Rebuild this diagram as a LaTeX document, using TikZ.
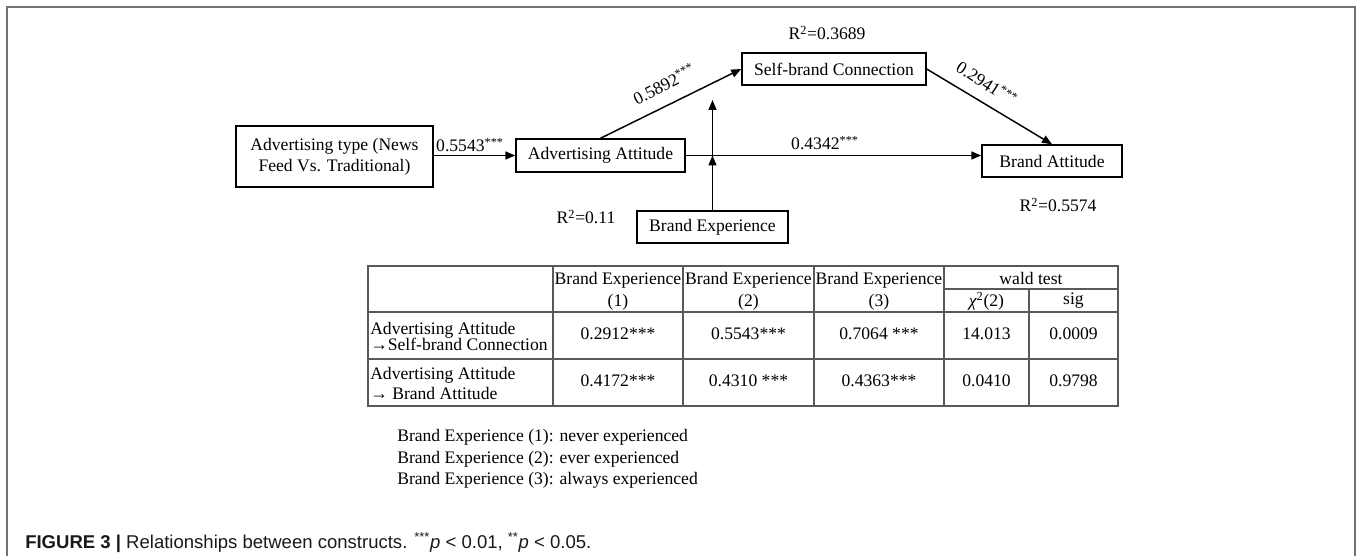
\documentclass[tikz,border=0pt]{standalone}
\usepackage{fontspec}
\setmainfont{Liberation Serif}
\setsansfont{Liberation Sans}
\usetikzlibrary{arrows.meta}
\begin{document}
\begin{tikzpicture}[x=0.75pt,y=-0.75pt,
  box/.style={draw, line width=1.1pt, inner sep=0pt, align=center, font=\fontsize{13.2pt}{15.75pt}\selectfont},
  conn/.style={line width=1.1pt, -{Triangle[length=7.5pt,width=6pt]}},
  lbl/.style={inner sep=0pt, font=\fontsize{13.2pt}{15.5pt}\selectfont},
  tline/.style={draw=black!65, line width=1.1pt},
  ttext/.style={inner sep=0pt, align=center, font=\fontsize{13.2pt}{16.25pt}\selectfont},
  tleft/.style={inner sep=0pt, anchor=west, align=left},
  frame/.style={draw=black!55, line width=1.5pt}]
\useasboundingbox (0,0) rectangle (1357,556);
\draw[frame] (7,556) -- (7,7) -- (1355,7) -- (1355,556);

% boxes
\node[box, minimum width=147.75pt, minimum height=45.75pt] (type) at (334.5,156.5) {Advertising type (News\\Feed Vs. Traditional)};
\node[box, minimum width=126.75pt, minimum height=24.75pt] (aa) at (600.5,155.5) {Advertising Attitude};
\node[box, minimum width=138pt, minimum height=24pt] (sbc) at (834,69) {Self-brand Connection};
\node[box, minimum width=105pt, minimum height=24pt] (ba) at (1052,161) {Brand Attitude};
\node[box, minimum width=113.25pt, minimum height=24pt] (be) at (712.5,227) {Brand Experience};

% connectors
\draw[conn] (type.east |- aa.west) -- (aa.west);
\draw[conn] (aa.north) -- (sbc.west);
\draw[conn] (sbc.east) -- (ba.north);
\draw[conn] (aa.east) -- (aa.east -| ba.west);
\coordinate (cross) at (be.north |- aa.east);
\coordinate (mtip) at (712.5,100);
\draw[conn] (be.north) -- (cross);
\draw[conn] (cross) -- (mtip);

% labels
\node[lbl] (l1) at (470,145) {0.5543\textsuperscript{***}};
\node[lbl] (l4) at (825,143) {0.4342\textsuperscript{***}};
\node[lbl, rotate=27] (l2) at (664,84) {0.5892\textsuperscript{***}};
\node[lbl, rotate=-33] (l3) at (987,83) {0.2941\textsuperscript{***}};
\node[lbl] (r1) at (827,33) {R\textsuperscript{2}=0.3689};
\node[lbl] (r2) at (586,217) {R\textsuperscript{2}=0.11};
\node[lbl] (r3) at (1058,205) {R\textsuperscript{2}=0.5574};

% table grid
\draw[tline] (368,266) rectangle (1118,406);
\draw[tline] (368,312) -- (1118,312);
\draw[tline] (368,359) -- (1118,359);
\draw[tline] (944,289) -- (1118,289);
\draw[tline] (553,266) -- (553,406);
\draw[tline] (683,266) -- (683,406);
\draw[tline] (814,266) -- (814,406);
\draw[tline] (944,266) -- (944,406);
\draw[tline] (1029,289) -- (1029,406);

% table header
\node[ttext] (h1) at (618,291) {Brand Experience\\(1)};
\node[ttext] (h2) at (748.5,291) {Brand Experience\\(2)};
\node[ttext] (h3) at (879,291) {Brand Experience\\(3)};
\node[ttext] (hw) at (1031,278) {wald test};
\node[ttext] (hc) at (986.5,301) {{\itshape χ}\textsuperscript{2}(2)};
\node[ttext] (hs) at (1073.5,301) {sig};

% row 1
\node[tleft, font=\fontsize{13.2pt}{12.5pt}\selectfont] (a1) at (370,336.5) {Advertising Attitude\\→Self-brand Connection};
\node[ttext] (v11) at (618,334) {0.2912***};
\node[ttext] (v12) at (748.5,334) {0.5543***};
\node[ttext] (v13) at (879,334) {0.7064 ***};
\node[ttext] (v14) at (986.5,334) {14.013};
\node[ttext] (v15) at (1073.5,334) {0.0009};

% row 2
\node[tleft, font=\fontsize{13.2pt}{15pt}\selectfont] (a2) at (370,383) {Advertising Attitude\\→ Brand Attitude};
\node[ttext] (v21) at (618,381) {0.4172***};
\node[ttext] (v22) at (748.5,381) {0.4310 ***};
\node[ttext] (v23) at (879,381) {0.4363***};
\node[ttext] (v24) at (986.5,381) {0.0410};
\node[ttext] (v25) at (1073.5,381) {0.9798};

% legend
\node[lbl, anchor=west] (g1) at (397,437) {Brand Experience (1): never experienced};
\node[lbl, anchor=west] (g2) at (397,459) {Brand Experience (2): ever experienced};
\node[lbl, anchor=west] (g3) at (397,480) {Brand Experience (3): always experienced};

% caption
\node[inner sep=0pt, anchor=base west, font=\sffamily\fontsize{13.9pt}{16pt}\selectfont, text=black!90] (cap) at (25,548) {\textbf{FIGURE 3 |} Relationships between constructs. \textsuperscript{***}\textit{p} {<} 0.01, \textsuperscript{**}\textit{p} {<} 0.05.};
\end{tikzpicture}
\end{document}
